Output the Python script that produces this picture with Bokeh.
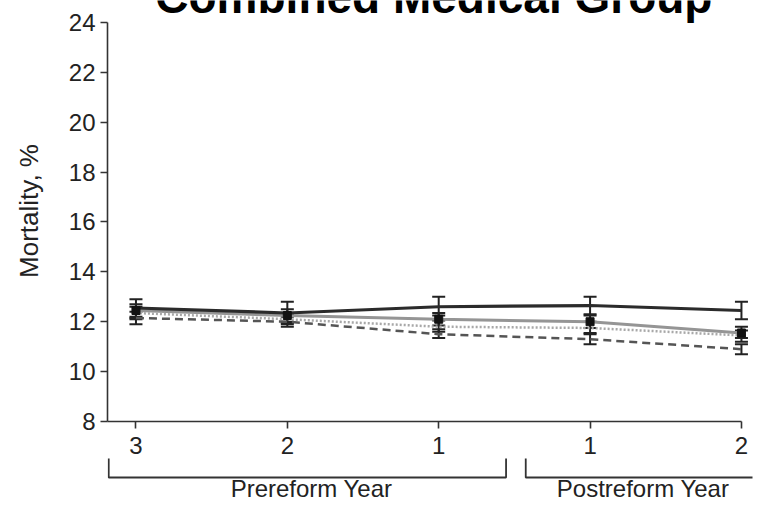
from bokeh.plotting import figure
from bokeh.models import Range1d, FixedTicker, ColumnDataSource, Whisker, TeeHead
from bokeh.layouts import column
from bokeh.embed import file_html
from bokeh.resources import INLINE
from bokeh.core.properties import value

# ---------------- data ----------------
title_text = "Combined Medical Group"
y_label = "Mortality, %"
x_labels = ["3", "2", "1", "1", "2"]
y_ticks = [8, 10, 12, 14, 16, 18, 20, 22, 24]

group_names = ["Prereform Year", "Postreform Year"]
group_label_x = [1.16, 3.35]
bracket_start = [-0.18, 2.575]
bracket_end = [2.445, 4.35]

series_a = [12.55, 12.35, 12.6, 12.65, 12.45]
series_a_low = [12.2, 12.0, 12.25, 12.3, 12.1]
series_a_high = [12.9, 12.8, 13.0, 13.0, 12.8]

series_b = [12.45, 12.25, 12.1, 12.0, 11.55]
series_b_low = [12.15, 11.95, 11.85, 11.75, 11.35]
series_b_high = [12.7, 12.5, 12.35, 12.25, 11.8]

series_c = [12.35, 12.1, 11.8, 11.75, 11.45]
series_c_low = [12.1, 11.9, 11.6, 11.5, 11.2]
series_c_high = [12.6, 12.3, 12.05, 12.0, 11.65]

series_d = [12.15, 12.0, 11.5, 11.3, 10.9]
series_d_low = [11.9, 11.8, 11.35, 11.1, 10.7]
series_d_high = [12.4, 12.2, 11.7, 11.55, 11.1]

x_pos = list(range(len(x_labels)))

FONT = "Liberation Sans"
INK = "#222222"

# ---------------- main figure ----------------
p = figure(width=756, height=457,
           x_range=Range1d(-0.188, 4.073), y_range=Range1d(8, 24.88),
           output_backend="svg", toolbar_location=None,
           min_border_left=107, min_border_right=4,
           min_border_top=0, min_border_bottom=36)
p.outline_line_color = None
p.xgrid.visible = False
p.ygrid.visible = False
p.background_fill_color = "white"
p.border_fill_color = "white"

p.yaxis.ticker = FixedTicker(ticks=y_ticks)
p.yaxis.bounds = (y_ticks[0], y_ticks[-1])
p.xaxis.ticker = FixedTicker(ticks=x_pos)
p.xaxis.major_label_overrides = {i: lab for i, lab in zip(x_pos, x_labels)}
p.xaxis.bounds = (-0.188, x_pos[-1])

for ax in (p.xaxis, p.yaxis):
    ax.axis_line_color = "#333333"
    ax.axis_line_width = 1.6
    ax.major_tick_line_color = "#333333"
    ax.major_tick_line_width = 1.6
    ax.major_tick_out = 7
    ax.major_tick_in = 0
    ax.minor_tick_line_color = None
    ax.major_label_text_font = FONT
    ax.major_label_text_font_size = "24px"
    ax.major_label_text_color = INK

p.yaxis.major_label_standoff = 5
p.xaxis.major_label_standoff = 8
p.yaxis.axis_label = y_label
p.yaxis.axis_label_text_font = FONT
p.yaxis.axis_label_text_font_size = "26px"
p.yaxis.axis_label_text_font_style = "normal"
p.yaxis.axis_label_text_color = INK
p.yaxis.axis_label_standoff = 22

styles = [
    (series_b, series_b_low, series_b_high, "#959595", 3, "solid"),
    (series_c, series_c_low, series_c_high, "#a8a8a8", 2.5, "2 2"),
    (series_d, series_d_low, series_d_high, "#555555", 2.5, "8 5"),
    (series_a, series_a_low, series_a_high, "#2b2b2b", 3.2, "solid"),
]

for vals, lo, hi, col, lw, dash in styles:
    src = ColumnDataSource(dict(x=x_pos, y=vals, lo=lo, hi=hi))
    p.line("x", "y", source=src, line_color=col, line_width=lw, line_dash=dash)
    w = Whisker(source=src, base="x", lower="lo", upper="hi",
                line_color=INK, line_width=2,
                lower_head=TeeHead(size=13, line_color=INK, line_width=2),
                upper_head=TeeHead(size=13, line_color=INK, line_width=2))
    p.add_layout(w)

src_b = ColumnDataSource(dict(x=x_pos, y=series_b))
p.scatter("x", "y", source=src_b, marker="square", size=8,
          fill_color="#111111", line_color="#111111")

p.text(x=[1.968], y=[25.04], text=[title_text],
       text_font=value(FONT), text_font_size="46px", text_font_style="bold",
       text_align="center", text_baseline="alphabetic", text_color="black")

# ---------------- bracket strip ----------------
p2 = figure(width=756, height=45, x_range=p.x_range, y_range=Range1d(0, 45),
            output_backend="svg", toolbar_location=None,
            min_border_left=107, min_border_right=4,
            min_border_top=0, min_border_bottom=0)
p2.axis.visible = False
p2.xgrid.visible = False
p2.ygrid.visible = False
p2.outline_line_color = None

xs = [[s, s, e, e] for s, e in zip(bracket_start, bracket_end)]
ys = [[44, 25, 25, 44] for _ in bracket_start]
p2.multi_line(xs, ys, line_color="#333333", line_width=1.8)
p2.text(x=group_label_x, y=[14.5, 14.5], text=group_names,
        text_font=value(FONT), text_font_size="24px",
        text_align="center", text_baseline="middle", text_color=INK)

layout = column(p, p2, spacing=0)
open("out.html", "w").write(file_html(layout, INLINE))
